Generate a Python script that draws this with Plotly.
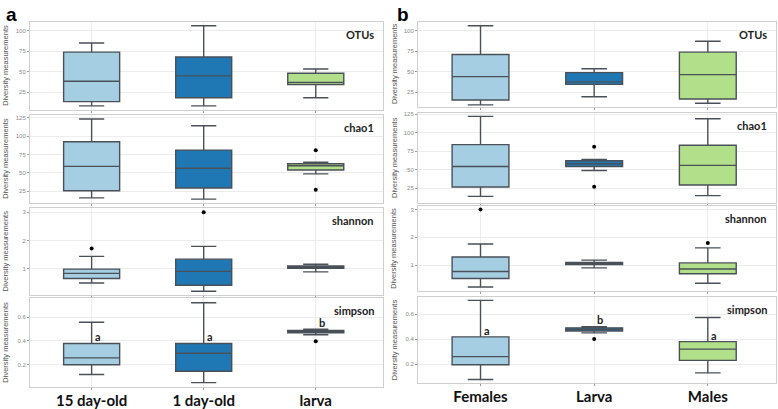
import plotly.graph_objects as go

# ---------------- data ----------------
groups_a = ["15 day-old", "1 day-old", "larva"]
groups_b = ["Females", "Larva", "Males"]
colors_a = ["#a6cee3", "#1f78b4", "#b2df8a"]
colors_b = ["#a6cee3", "#1f78b4", "#b2df8a"]
metrics = ["OTUs", "chao1", "shannon", "simpson"]

# five-number summaries per group: [lower whisker, q1, median, q3, upper whisker]
otus_a = [[8.3, 13.5, 38.4, 73.8, 84.9], [8.3, 18.2, 44.9, 67.9, 106.0], [18.2, 34.2, 36.9, 48.0, 53.2]]
chao1_a = [[16.0, 25.8, 59.0, 92.5, 123.7], [14.3, 29.4, 56.3, 81.2, 114.3], [48.7, 54.0, 59.8, 62.5, 64.5]]
shannon_a = [[0.50, 0.66, 0.84, 0.99, 1.44], [0.21, 0.42, 0.91, 1.34, 1.79], [0.89, 1.02, 1.06, 1.10, 1.16]]
simpson_a = [[0.118, 0.20, 0.258, 0.378, 0.556], [0.05, 0.146, 0.296, 0.378, 0.72], [0.452, 0.468, 0.478, 0.488, 0.499]]

otus_b = [[9.5, 15.5, 44.0, 71.0, 106.0], [19.4, 34.5, 37.5, 48.8, 53.6], [11.5, 16.7, 46.4, 73.8, 87.0]]
chao1_b = [[13.9, 26.7, 54.4, 83.9, 122.0], [49.0, 54.4, 58.0, 62.0, 64.0], [15.0, 29.4, 55.8, 83.0, 118.8]]
shannon_b = [[0.21, 0.52, 0.77, 1.29, 1.76], [0.90, 1.02, 1.06, 1.10, 1.18], [0.35, 0.69, 0.86, 1.08, 1.62]]
simpson_b = [[0.077, 0.195, 0.26, 0.418, 0.71], [0.45, 0.465, 0.478, 0.49, 0.50], [0.13, 0.23, 0.32, 0.38, 0.573]]

# outliers: (group index, value)
otus_a_out = []
chao1_a_out = [(2, 81.0), (2, 27.0)]
shannon_a_out = [(0, 1.72), (1, 3.0)]
simpson_a_out = [(2, 0.397)]
otus_b_out = []
chao1_b_out = [(1, 81.0), (1, 27.0)]
shannon_b_out = [(0, 3.0), (2, 1.8)]
simpson_b_out = [(1, 0.40)]

# significance letters on simpson panels: (group index, y, letter)
simpson_a_letters = [(0, 0.44, "a"), (1, 0.44, "a"), (2, 0.556, "b")]
simpson_b_letters = [(0, 0.47, "a"), (1, 0.555, "b"), (2, 0.43, "a")]

# y ranges and ticks
yranges_a = [[3.5, 111], [9, 129.4], [0.07, 3.15], [0.011, 0.759]]
yranges_b = [[7.4, 111], [5, 126.5], [0.06, 3.12], [0.046, 0.736]]
yticks = [[25, 50, 75, 100], [25, 50, 75, 100, 125], [1, 2, 3], [0.2, 0.4, 0.6]]

# ---------------- layout geometry (pixels) ----------------
W, H = 778, 409
col_x = [(30, 383), (418, 776)]
rows_a = [(20, 110), (115, 205), (210, 299), (302, 393)]
rows_b = [(20, 106.7), (113.3, 205), (208.3, 295), (301, 389)]

fig = go.Figure()
layout = {}
annotations = []

panels = [
    (0, groups_a, colors_a, [otus_a, chao1_a, shannon_a, simpson_a],
     [otus_a_out, chao1_a_out, shannon_a_out, simpson_a_out], simpson_a_letters, yranges_a, rows_a),
    (1, groups_b, colors_b, [otus_b, chao1_b, shannon_b, simpson_b],
     [otus_b_out, chao1_b_out, shannon_b_out, simpson_b_out], simpson_b_letters, yranges_b, rows_b),
]

ax = 0
for col, groups, colors, stats_list, outs_list, letters, yranges, rows in panels:
    x0, x1 = col_x[col]
    for r in range(4):
        ax += 1
        xa = "x" if ax == 1 else f"x{ax}"
        ya = "y" if ax == 1 else f"y{ax}"
        stats = stats_list[r]
        for gi, g in enumerate(groups):
            lo, q1, med, q3, hi = stats[gi]
            fig.add_trace(go.Box(
                x=[g], q1=[q1], median=[med], q3=[q3], lowerfence=[lo], upperfence=[hi],
                fillcolor=colors[gi], line=dict(color="#4a5058", width=1.4),
                width=0.5, whiskerwidth=0.45, boxpoints=False, showlegend=False,
                xaxis=xa, yaxis=ya, hoverinfo="skip"))
        outs = outs_list[r]
        if outs:
            fig.add_trace(go.Scatter(
                x=[groups[i] for i, _ in outs], y=[v for _, v in outs], mode="markers",
                marker=dict(color="black", size=4), showlegend=False,
                xaxis=xa, yaxis=ya, hoverinfo="skip"))
        top, bot = rows[r]
        xkey = "xaxis" if ax == 1 else f"xaxis{ax}"
        ykey = "yaxis" if ax == 1 else f"yaxis{ax}"
        layout[xkey] = dict(
            domain=[x0 / W, x1 / W], anchor=ya, type="category",
            categoryorder="array", categoryarray=groups, range=[-0.55, 2.6],
            showgrid=True, gridcolor="#ececec", gridwidth=1,
            showline=True, mirror=True, linecolor="#cfcfcf", linewidth=1,
            ticks="outside", ticklen=2, tickcolor="#999999",
            showticklabels=(r == 3), ticklabelstandoff=-2,
            tickfont=dict(family="Lato, Open Sans, sans-serif", size=15, color="#111111", weight="bold"),
            fixedrange=True)
        layout[ykey] = dict(
            domain=[1 - bot / H, 1 - top / H], anchor=xa, range=yranges[r],
            tickvals=yticks[r], showgrid=True, gridcolor="#ececec", gridwidth=1,
            zeroline=False, showline=True, mirror=True, linecolor="#cfcfcf", linewidth=1,
            ticks="outside", ticklen=2, tickcolor="#999999",
            tickfont=dict(family="Liberation Sans, Arial, sans-serif", size=6, color="#888888"),
            fixedrange=True)
        # panel label
        annotations.append(dict(
            text=f"<b>{metrics[r]}</b>", xref="paper", yref="paper",
            x=(x1 - 7) / W, y=1 - (top + 4) / H, xanchor="right", yanchor="top",
            showarrow=False, font=dict(family="Lato, Open Sans, sans-serif", size=11, color="#222222")))
        # y title
        annotations.append(dict(
            text="Diversity measurements", xref="paper", yref="paper",
            x=(x0 - 24) / W, y=1 - ((top + bot) / 2) / H, xanchor="center", yanchor="middle",
            textangle=-90, showarrow=False,
            font=dict(family="Liberation Sans, Arial, sans-serif", size=7.5, color="#555555")))
        if r == 3:
            for gi, yv, letter in letters:
                annotations.append(dict(
                    text=f"<b>{letter}</b>", xref=xa, yref=ya, x=groups[gi], y=yv,
                    xshift=6, showarrow=False,
                    font=dict(family="Lato, Open Sans, sans-serif", size=11, color="#222222")))

# big panel letters
annotations.append(dict(text="<b>a</b>", xref="paper", yref="paper", x=4 / W, y=1 - 0 / H,
                        xanchor="left", yanchor="top", showarrow=False,
                        font=dict(family="Liberation Sans, Arial, sans-serif", size=19, color="black")))
annotations.append(dict(text="<b>b</b>", xref="paper", yref="paper", x=395 / W, y=1 - 0 / H,
                        xanchor="left", yanchor="top", showarrow=False,
                        font=dict(family="Liberation Sans, Arial, sans-serif", size=19, color="black")))

fig.update_layout(
    width=W, height=H, margin=dict(l=0, r=0, t=0, b=0),
    paper_bgcolor="white", plot_bgcolor="white", boxmode="overlay",
    annotations=annotations, **layout)

fig.write_html("out.html", config={"displayModeBar": False},
               post_script="document.body.style.margin='0';document.body.style.overflow='hidden';")
